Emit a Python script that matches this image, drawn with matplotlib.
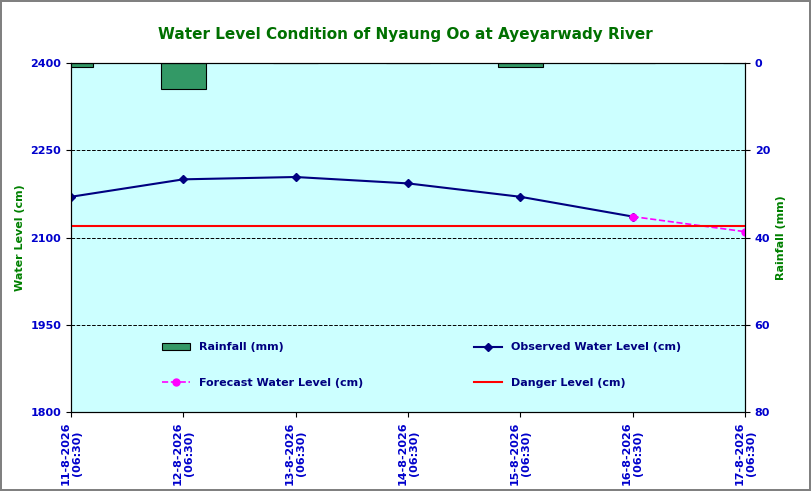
import matplotlib
matplotlib.use('Agg')
import matplotlib.pyplot as plt
import numpy as np

dates = ['11-8-2026\n(06:30)', '12-8-2026\n(06:30)', '13-8-2026\n(06:30)', '14-8-2026\n(06:30)',
         '15-8-2026\n(06:30)', '16-8-2026\n(06:30)', '17-8-2026\n(06:30)']
observed = [2170, 2200, 2204, 2193, 2170, 2136]
forecast = [2136, 2110]
danger = 2120
rainfall = [1, 6, 0, 0, 1, 0, 0]

x = np.arange(len(dates))

fig = plt.figure(figsize=(8.11, 4.91), dpi=100)
fig.patch.set_edgecolor('#808080')
fig.patch.set_linewidth(1.5)
ax = fig.add_axes([71/811, 1-412/491, 674/811, 349/491])

ax.plot(x[:6], observed, color='#000080', marker='D', markersize=4, linewidth=1.5, label='Observed Water Level (cm)')
ax.plot(x[5:7], forecast, color='#FF00FF', marker='o', markersize=5, linestyle='--', linewidth=1.2, label='Forecast Water Level (cm)')
ax.axhline(danger, color='#FF0000', linewidth=1.5, label='Danger Level (cm)')

ax.set_xlim(0, 6)
ax.set_ylim(1800, 2400)
ax.set_yticks([1800, 1950, 2100, 2250, 2400])
ax.set_xticks(x)
ax.set_xticklabels(dates, rotation=90, fontsize=8, fontweight='bold', color='#0000CC')
ax.tick_params(axis='y', labelsize=8, labelcolor='#0000CC')
for lbl in ax.get_yticklabels():
    lbl.set_fontweight('bold')
ax.grid(axis='y', color='black', linestyle='--', linewidth=0.7)
ax.set_ylabel('Water Level (cm)', fontsize=8, fontweight='bold', color='#008000')

ax2 = ax.twinx()
ax2.bar(x, rainfall, width=0.4, color='#339966', edgecolor='black', linewidth=0.8, label='Rainfall (mm)')
ax2.set_ylim(80, 0)
ax2.set_yticks([0, 20, 40, 60, 80])
ax2.tick_params(axis='y', labelsize=8, labelcolor='#0000CC')
for lbl in ax2.get_yticklabels():
    lbl.set_fontweight('bold')
ax2.set_ylabel('Rainfall (mm)', fontsize=8, fontweight='bold', color='#008000')
ax.set_zorder(ax2.get_zorder() + 1)
ax.patch.set_visible(False)
ax2.patch.set_visible(True)
ax2.patch.set_facecolor('#CCFFFF')
ax2.set_zorder(0)

h1, l1 = ax.get_legend_handles_labels()
h2, l2 = ax2.get_legend_handles_labels()
handles = [h2[0], h1[1], h1[0], h1[2]]
labels = [l2[0], l1[1], l1[0], l1[2]]
leg = ax.legend(handles, labels, ncol=2, loc='lower center', bbox_to_anchor=(0.52, 0.04),
                frameon=False, prop={'size': 8, 'weight': 'bold'}, labelcolor='#000080',
                columnspacing=10, handlelength=2.5, labelspacing=2.3)

fig.text(0.5, 1-35/491, 'Water Level Condition of Nyaung Oo at Ayeyarwady River', ha='center', va='center',
         fontsize=11, fontweight='bold', color='#007000')

fig.savefig('out.png', dpi=100, edgecolor=fig.get_edgecolor())
